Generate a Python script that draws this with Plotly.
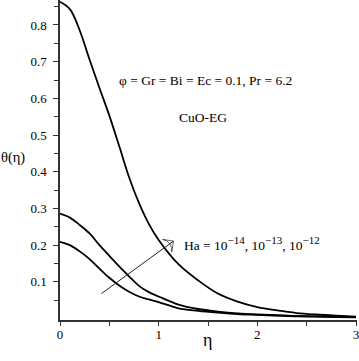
import plotly.graph_objects as go

eta = [0, 0.1, 0.2, 0.3, 0.4, 0.5, 0.6, 0.7, 0.8, 0.9, 1.0, 1.2, 1.4, 1.6, 1.8, 2.0, 2.2, 2.4, 2.6, 2.8, 3.0]
theta_ha12 = [0.863, 0.843, 0.785, 0.705, 0.628, 0.553, 0.470, 0.385, 0.315, 0.258, 0.214, 0.148, 0.104, 0.068, 0.046, 0.031, 0.022, 0.015, 0.011, 0.008, 0.005]
theta_ha13 = [0.286, 0.275, 0.255, 0.232, 0.200, 0.171, 0.142, 0.115, 0.089, 0.072, 0.060, 0.038, 0.026, 0.019, 0.014, 0.011, 0.009, 0.007, 0.006, 0.005, 0.004]
theta_ha14 = [0.209, 0.200, 0.183, 0.162, 0.136, 0.111, 0.090, 0.073, 0.060, 0.052, 0.045, 0.028, 0.021, 0.016, 0.012, 0.010, 0.008, 0.006, 0.005, 0.004, 0.003]

arrow_x = [0.42, 1.15]
arrow_y = [0.068, 0.211]

y_ticks = [0.1, 0.2, 0.3, 0.4, 0.5, 0.6, 0.7, 0.8]
x_ticks = [0, 1, 2, 3]

font = "Liberation Serif, Times New Roman, serif"

W, H = 359, 361
L, R, T, B = 60, 2, 0, 41
PW, PH = W - L - R, H - T - B

def px_x(p):
    return (p - L) / PW

def px_y(p):
    return (H - B - p) / PH

fig = go.Figure()
for ys in (theta_ha12, theta_ha13, theta_ha14):
    fig.add_trace(go.Scatter(x=eta, y=ys, mode="lines", line=dict(color="black", width=1.8, shape="spline"),
                             showlegend=False, hoverinfo="skip"))

fig.add_trace(go.Scatter(x=arrow_x, y=arrow_y, mode="lines+markers",
                         line=dict(color="#222", width=1),
                         marker=dict(symbol="arrow-wide-open", size=[0, 11], angleref="previous",
                                     color="#222", line=dict(width=1, color="#222")),
                         showlegend=False, hoverinfo="skip"))

sup = '<sup><span style="font-size:11px">{}</span></sup>'
fig.add_annotation(x=px_x(117), y=px_y(80), xref="paper", yref="paper", xanchor="left", yanchor="middle",
                   text="φ = Gr = Bi = Ec = 0.1, Pr = 6.2", showarrow=False,
                   font=dict(family=font, size=13.5, color="black"))
fig.add_annotation(x=px_x(177), y=px_y(117), xref="paper", yref="paper", xanchor="left", yanchor="middle",
                   text="CuO-EG", showarrow=False,
                   font=dict(family=font, size=13.5, color="black"))
fig.add_annotation(x=px_x(182), y=px_y(243), xref="paper", yref="paper", xanchor="left", yanchor="middle",
                   text="Ha = 10" + sup.format("−14") + ", 10" + sup.format("−13") + ", 10" + sup.format("−12"),
                   showarrow=False, font=dict(family=font, size=13.5, color="black"))
fig.add_annotation(x=px_x(0), y=px_y(157), xref="paper", yref="paper", xanchor="left", yanchor="middle",
                   showarrow=False, text="θ(η)", borderpad=0,
                   font=dict(family=font, size=14.5, color="black"))
fig.add_annotation(x=px_x(207), y=px_y(352), xref="paper", yref="paper", showarrow=False, text="η",
                   font=dict(family=font, size=18, color="black"))

fig.update_layout(
    width=W, height=H,
    margin=dict(l=L, r=R, t=T, b=B),
    paper_bgcolor="white", plot_bgcolor="white",
    font=dict(family=font, size=13, color="black"),
    xaxis=dict(range=[0, 3.01], tickvals=x_ticks, ticks="outside", ticklen=4, tickcolor="#333",
               showline=True, linecolor="#333", linewidth=1.5, showgrid=False, zeroline=False,
               minor=dict(tickvals=[0.5, 1.5, 2.5], ticks="outside", ticklen=4, tickcolor="#333"),
               tickfont=dict(family=font, size=13), ticklabelstandoff=-2, ticklabeloverflow="allow"),
    yaxis=dict(range=[-0.004, 0.868], tickvals=y_ticks, ticks="outside", ticklen=5, tickcolor="#333",
               showline=True, linecolor="#333", linewidth=1.5, showgrid=False, zeroline=False,
               minor=dict(tickvals=[0.05, 0.15, 0.25, 0.35, 0.45, 0.55, 0.65, 0.75, 0.85],
                          ticks="outside", ticklen=4, tickcolor="#333"),
               tickfont=dict(family=font, size=13), ticklabelstandoff=4),
)

fig.write_html("out.html", config={"displayModeBar": False},
               post_script="document.body.style.margin='0';document.body.style.overflow='hidden';")
